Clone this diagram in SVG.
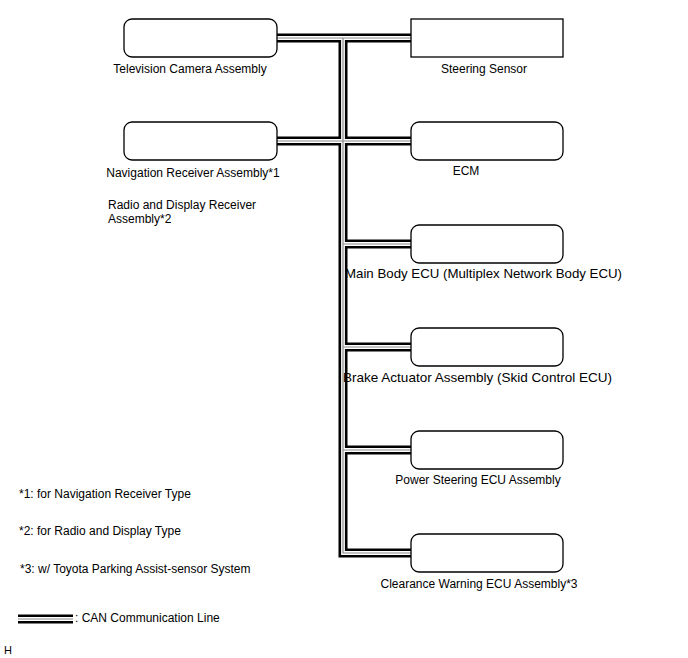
<svg xmlns="http://www.w3.org/2000/svg" width="688" height="658" viewBox="0 0 688 658">
<style>
.box{fill:#fff;stroke:#000;stroke-width:1.3}
.t{font-family:"Liberation Sans",Arial,sans-serif;font-size:12px;fill:#000}
.m{text-anchor:middle}
.w{font-size:13px}
.bk{fill:none;stroke:#000;stroke-width:9;stroke-linejoin:miter}
.wh{fill:none;stroke:#fff;stroke-width:3.8;stroke-linejoin:miter}
.gr{fill:none;stroke:#8a8a8a;stroke-width:1.2;stroke-linejoin:miter}
</style>
<defs>
<g id="bus">
<path d="M277,38H411"/>
<path d="M343,38V553H411"/>
<path d="M277,141H411"/>
<path d="M343,244H411"/>
<path d="M343,347H411"/>
<path d="M343,450H411"/>
</g>
<path id="leg" d="M18,619H73"/>
</defs>
<rect width="688" height="658" fill="#fff"/>
<g id="connectors">
<use href="#bus" class="bk"/>
<use href="#bus" class="wh"/>
<use href="#bus" class="gr"/>
</g>
<g id="tv-camera"><rect class="box" x="124" y="19" width="153" height="38" rx="8"/><text class="t m" x="190" y="73">Television Camera Assembly</text></g>
<g id="steering-sensor"><rect class="box" x="411" y="19" width="152" height="38"/><text class="t m" x="484" y="73">Steering Sensor</text></g>
<g id="navigation-receiver"><rect class="box" x="124" y="122" width="153" height="38" rx="8"/><text class="t m" x="193" y="177">Navigation Receiver Assembly*1</text><text class="t" x="108" y="209">Radio and Display Receiver</text><text class="t" x="108" y="223">Assembly*2</text></g>
<g id="ecm"><rect class="box" x="411" y="122" width="152" height="38" rx="8"/><text class="t m" x="466" y="175">ECM</text></g>
<g id="main-body-ecu"><rect class="box" x="411" y="225" width="152" height="38" rx="8"/><text class="t m w" x="483.5" y="278" textLength="277" lengthAdjust="spacingAndGlyphs">Main Body ECU (Multiplex Network Body ECU)</text></g>
<g id="brake-actuator"><rect class="box" x="411" y="328" width="152" height="38" rx="8"/><text class="t m w" x="477.5" y="382" textLength="269" lengthAdjust="spacingAndGlyphs">Brake Actuator Assembly (Skid Control ECU)</text></g>
<g id="power-steering-ecu"><rect class="box" x="411" y="431" width="152" height="38" rx="8"/><text class="t m" x="478" y="484">Power Steering ECU Assembly</text></g>
<g id="clearance-warning-ecu"><rect class="box" x="411" y="534" width="152" height="38" rx="8"/><text class="t m" x="479" y="588">Clearance Warning ECU Assembly*3</text></g>
<g id="notes">
<text class="t" x="19" y="498">*1: for Navigation Receiver Type</text>
<text class="t" x="19" y="535">*2: for Radio and Display Type</text>
<text class="t" x="20" y="573">*3: w/ Toyota Parking Assist-sensor System</text>
</g>
<g id="legend">
<use href="#leg" class="bk"/>
<use href="#leg" class="wh"/>
<use href="#leg" class="gr"/>
<text class="t" x="75" y="622">: CAN Communication Line</text>
</g>
<text class="t" x="4" y="654" style="font-size:11px">H</text>
</svg>
